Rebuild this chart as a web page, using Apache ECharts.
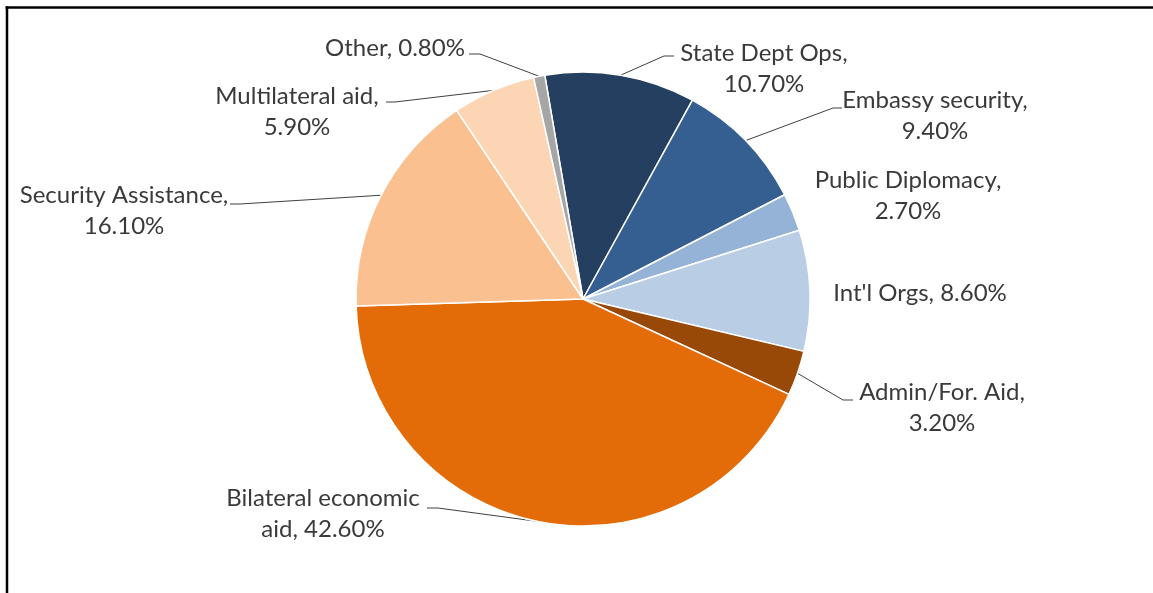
<!DOCTYPE html>
<html><head><meta charset="utf-8">
<script src="https://cdn.jsdelivr.net/npm/echarts@6/dist/echarts.min.js"></script>
<style>html,body{margin:0;padding:0;background:#fff;}#c{width:1153px;height:593px;}</style>
</head><body><div id="c"></div>
<script>
const categories = ["State Dept Ops","Embassy security","Public Diplomacy","Int'l Orgs","Admin/For. Aid","Bilateral economic aid","Security Assistance","Multilateral aid","Other"];
const shares = [10.7, 9.4, 2.7, 8.6, 3.2, 42.6, 16.1, 5.9, 0.8];
const colors = ['#243F60','#355E91','#95B3D7','#B9CDE5','#984807','#E36C09','#FAC090','#FCD5B5','#A6A6A6'];

// label placement (layout only)
const labelPlacement = [
  {x:764, y:68.5, line:[[664,56],[674,56]]},
  {x:935, y:115.5, line:[[833,108],[842,108]]},
  {x:908, y:195.5, line:null},
  {x:920, y:293, line:null},
  {x:942, y:408, line:[[843,400],[853,400]]},
  {x:323, y:514, line:[[438,508],[427,508]]},
  {x:124, y:210.5, line:[[240,204],[230,204]]},
  {x:297, y:112, line:[[395,102],[386,102]]},
  {x:395, y:48, line:[[480,54],[469,54]]}
];

function labelText(name, v) {
  const pct = v.toFixed(2) + '%';
  if (name === 'Other' || name === "Int'l Orgs") return name + ', ' + pct;
  if (name === 'Bilateral economic aid') return 'Bilateral economic\naid, ' + pct;
  return name + ',\n' + pct;
}

const chart = echarts.init(document.getElementById('c'), null, {renderer:'canvas'});
chart.setOption({
  animation: false,
  backgroundColor: '#fff',
  graphic: [
    {type:'line', shape:{x1:5.5, y1:7.5, x2:1153, y2:7.5}, style:{stroke:'#000', lineWidth:2.5}},
    {type:'line', shape:{x1:7, y1:6.5, x2:7, y2:593}, style:{stroke:'#000', lineWidth:2.5}}
  ],
  series: [{
    type: 'pie',
    center: [583, 299],
    radius: 227,
    startAngle: 99.7,
    clockwise: true,
    avoidLabelOverlap: false,
    itemStyle: {borderColor:'#fff', borderWidth:1.5},
    label: {
      show: true,
      formatter: p => labelText(p.name, p.value),
      fontFamily: 'Lato',
      fontSize: 24,
      lineHeight: 31,
      color: '#3a3a3a',
      align: 'center'
    },
    labelLine: {show: true, lineStyle:{color:'#404040', width:1}},
    labelLayout: function (params) {
      const lp = labelPlacement[params.dataIndex];
      const out = {x: lp.x, y: lp.y, align: 'center', verticalAlign: 'middle'};
      if (lp.line && params.labelLinePoints) {
        out.labelLinePoints = [params.labelLinePoints[0], lp.line[0], lp.line[1]];
      }
      return out;
    },
    data: categories.map((c, i) => ({
      name: c, value: shares[i],
      itemStyle: {color: colors[i]},
      labelLine: {show: labelPlacement[i].line !== null}
    }))
  }]
});
</script></body></html>
